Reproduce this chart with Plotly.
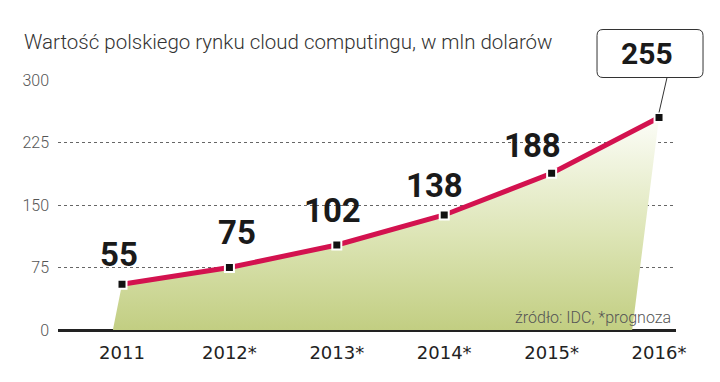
import plotly.graph_objects as go

years = ["2011", "2012*", "2013*", "2014*", "2015*", "2016*"]
values = [55, 75, 102, 138, 188, 255]
y_ticks = [0, 75, 150, 225, 300]
title_text = "Wartość polskiego rynku cloud computingu, w mln dolarów"
source_text = "źródło: IDC, *prognoza"

# styling offsets (pixels) for the value labels
label_xshift = [-3, 8, -4, -10, -19]
label_yshift = [8, 14, 13, 8, 6]
LABEL_FONT = dict(family="Roboto", size=33, color="#1a1a1a", weight=700)

X_RANGE = [-0.596, 5.158]
Y_RANGE = [0, 300]

xi = list(range(len(years)))
fill_x = [xi[0] - 0.085] + xi + [xi[-1] - 0.25]
fill_y = [0] + values + [0]

fig = go.Figure()
fig.add_trace(go.Scatter(
    x=fill_x, y=fill_y, mode="none", fill="toself",
    fillgradient=dict(type="vertical", start=0, stop=255,
                      colorscale=[[0, "rgb(194,206,130)"], [0.45, "rgb(221,229,182)"],
                                  [1, "rgb(252,253,248)"]]),
    hoverinfo="skip", showlegend=False))
fig.add_trace(go.Scatter(
    x=xi, y=values, mode="lines+markers",
    line=dict(color="#d3124f", width=5),
    marker=dict(symbol="square", size=9, color="#111111",
                line=dict(color="white", width=2)),
    showlegend=False, cliponaxis=False))

for i, v in enumerate(values[:-1]):
    fig.add_annotation(x=xi[i], y=v, text=str(v), showarrow=False,
                       yanchor="bottom", yshift=label_yshift[i], xshift=label_xshift[i],
                       font=LABEL_FONT)

# rounded callout box for the last value, anchored on the last point (paper ref so it is not clipped)
ax_p = (xi[-1] - X_RANGE[0]) / (X_RANGE[1] - X_RANGE[0])
ay_p = (values[-1] - Y_RANGE[0]) / (Y_RANGE[1] - Y_RANGE[0])
box = "M -56,40 L 38,40 Q 44,40 44,46 L 44,82 Q 44,88 38,88 L -56,88 Q -62,88 -62,82 L -62,46 Q -62,40 -56,40 Z"
fig.add_shape(type="path", path=box, xsizemode="pixel", ysizemode="pixel",
              xanchor=ax_p, yanchor=ay_p, xref="paper", yref="paper",
              line=dict(color="#333", width=1), fillcolor="white", layer="above")
fig.add_shape(type="line", x0=8, y0=40, x1=0, y1=5, xsizemode="pixel", ysizemode="pixel",
              xanchor=ax_p, yanchor=ay_p, xref="paper", yref="paper",
              line=dict(color="#333", width=1), layer="above")
fig.add_annotation(x=xi[-1], y=values[-1], text=str(values[-1]), showarrow=False,
                   xshift=-12, yshift=64,
                   font=dict(family="Roboto", size=30, color="#1a1a1a", weight=700))

fig.add_annotation(xref="paper", yref="paper", x=(14 - 50) / 618, y=1.0, xanchor="left", yanchor="bottom",
                   yshift=24, text=title_text, showarrow=False,
                   font=dict(family="Roboto", size=20.5, color="#333", weight=300))
fig.add_annotation(xref="paper", yref="paper", x=1.0, y=0, xanchor="right", yanchor="bottom",
                   yshift=1, xshift=-3, text=source_text, showarrow=False,
                   font=dict(family="Roboto", size=16, color="#555", weight=300))

fig.update_layout(
    width=712, height=374, margin=dict(l=50, r=44, t=72, b=52),
    plot_bgcolor="white", paper_bgcolor="white",
    xaxis=dict(range=X_RANGE, tickmode="array", tickvals=xi, ticktext=years,
               showgrid=False, zeroline=False, showline=False, automargin=False,
               tickfont=dict(family="DejaVu Sans", size=18, color="#222"),
               ticklabelstandoff=10),
    yaxis=dict(range=Y_RANGE, tickvals=y_ticks, showgrid=True, automargin=False,
               gridcolor="#666", griddash="dot", gridwidth=1,
               zeroline=True, zerolinecolor="#222", zerolinewidth=3,
               tickfont=dict(family="Roboto", size=16, color="#555", weight=300),
               ticklabelstandoff=8),
)
fig.write_html("out.html")
